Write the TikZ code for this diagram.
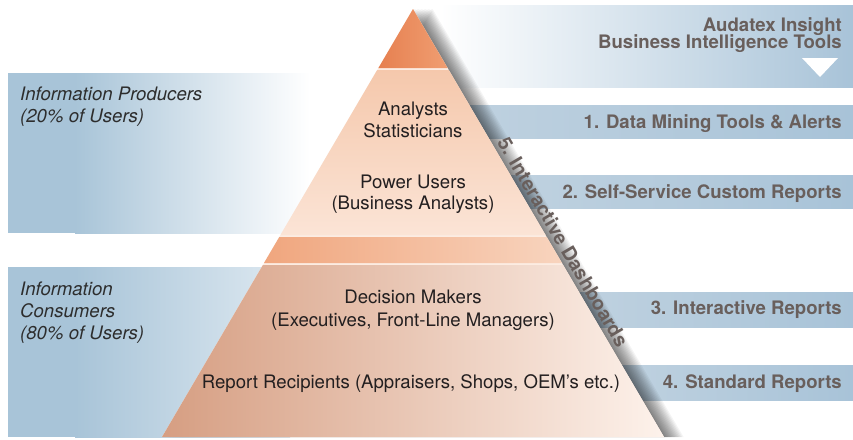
\documentclass[tikz,border=0pt]{standalone}
\usepackage{fontspec}
\setmainfont{TeX Gyre Heros}
\usetikzlibrary{calc}
\definecolor{bluep}{RGB}{168,196,216}
\definecolor{bluelight}{RGB}{222,233,241}
\definecolor{bandL}{RGB}{192,210,224}
\definecolor{bandM}{RGB}{216,229,239}
\definecolor{bandR}{RGB}{168,195,216}
\definecolor{topL}{RGB}{230,128,80}
\definecolor{topR}{RGB}{240,158,114}
\definecolor{midT}{RGB}{245,200,172}
\definecolor{midB}{RGB}{251,228,214}
\definecolor{stripL}{RGB}{240,166,126}
\definecolor{stripR}{RGB}{248,212,190}
\definecolor{botL}{RGB}{214,158,130}
\definecolor{botM}{RGB}{247,222,205}
\definecolor{botR}{RGB}{253,242,235}
\definecolor{pyrgap}{RGB}{252,236,226}
\definecolor{rtext}{RGB}{105,95,92}
\definecolor{ltext}{RGB}{45,45,45}
\definecolor{ptext}{RGB}{35,31,32}
\tikzset{
  fnt/.style={font=\fontsize{18.6}{22}\selectfont},
  pyrtext/.style={fnt, text=ptext, inner sep=0pt, anchor=base},
  lefttext/.style={font=\fontsize{18.6}{22}\selectfont\itshape, text=ltext, inner sep=0pt, anchor=base west},
  righttext/.style={font=\fontsize{18.6}{22}\selectfont\bfseries, text=rtext, inner sep=0pt, anchor=base east},
}
\begin{document}
\begin{tikzpicture}[x=1pt,y=-1pt]
\useasboundingbox (0,0) rectangle (853,439);
\fill[white] (0,0) rectangle (853,439);

% left panels
\fill[bluep] (8,73) rectangle (76,233);
\shade[left color=bluep, right color=white] (75,73) rectangle (310,233);
\fill[bluep] (8,267) rectangle (76,437);
\shade[left color=bluep, right color=bluelight] (75,267) rectangle (290,437);

% header panel
\shade[left color=white, right color=bandR] (440,5) rectangle (853,87);
\fill[white] (802,58) -- (838,58) -- (820,77) -- cycle;

% right bands
\shade[left color=bandL, middle color=bandM, right color=bandR] (440,105) rectangle (853,138);
\shade[left color=bandL, middle color=bandM, right color=bandR] (500,175) rectangle (853,208);
\shade[left color=bandL, middle color=bandM, right color=bandR] (570,292) rectangle (853,327);
\shade[left color=bandL, middle color=bandM, right color=bandR] (610,365) rectangle (853,400);

% shadow of pyramid
\foreach \d in {1,...,14}
  \fill[black, opacity=0.045] ({413+1.4*\d},9) -- ({664+1.4*\d},437) -- ({162+1.4*\d},437) -- cycle;

% pyramid
\coordinate (apex) at (413,9);
\coordinate (bl) at (162,437);
\coordinate (br) at (664,437);
\fill[pyrgap] (apex) -- (br) -- (bl) -- cycle;
\shade[left color=topL, right color=topR] (apex) -- (447.6,68) -- (378.4,68) -- cycle;
\shade[top color=midT, bottom color=midB] (377.2,70) -- (448.8,70) -- (545.5,235) -- (280.5,235) -- cycle;
\shade[left color=stripL, right color=stripR] (279.3,237) -- (546.7,237) -- (562.0,263) -- (264.0,263) -- cycle;
\shade[left color=botL, middle color=botM, right color=botR] (262.9,265) -- (563.1,265) -- (br) -- (bl) -- cycle;

% pyramid texts
\node[pyrtext] (an) at (413,115) {Analysts};
\node[pyrtext] (st) at (413,137) {Statisticians};
\node[pyrtext] (pu) at (413,188) {Power Users};
\node[pyrtext] (ba) at (413,209) {(Business Analysts)};
\node[pyrtext] (dm) at (413,303) {Decision Makers};
\node[pyrtext] (ex) at (413,326) {(Executives, Front-Line Managers)};
\node[pyrtext] (rr) at (411,388) {Report Recipients (Appraisers, Shops, OEM’s etc.)};

% left texts
\node[lefttext] (ip) at (20,100) {Information Producers};
\node[lefttext] (ip2) at (20,122) {(20\% of Users)};
\node[lefttext] (ic) at (20,295) {Information};
\node[lefttext] (ic2) at (20,317) {Consumers};
\node[lefttext] (ic3) at (20,339) {(80\% of Users)};

% right texts
\node[righttext] (h1) at (842,31) {Audatex Insight};
\node[righttext] (h2) at (842,48.5) {Business Intelligence Tools};
\node[righttext] (r1) at (842,128) {1. Data Mining Tools \& Alerts};
\node[righttext] (r2) at (842,198) {2. Self-Service Custom Reports};
\node[righttext] (r3) at (842,314) {3. Interactive Reports};
\node[righttext] (r4) at (842,388) {4. Standard Reports};

% dashboards
\path (apex) -- (br) node[pos=0.558, sloped, anchor=base, yshift=4.5pt, inner sep=0pt,
  font=\fontsize{19.5}{22}\selectfont\bfseries, text=rtext] (dash) {5. Interactive Dashboards};
\end{tikzpicture}
\end{document}
